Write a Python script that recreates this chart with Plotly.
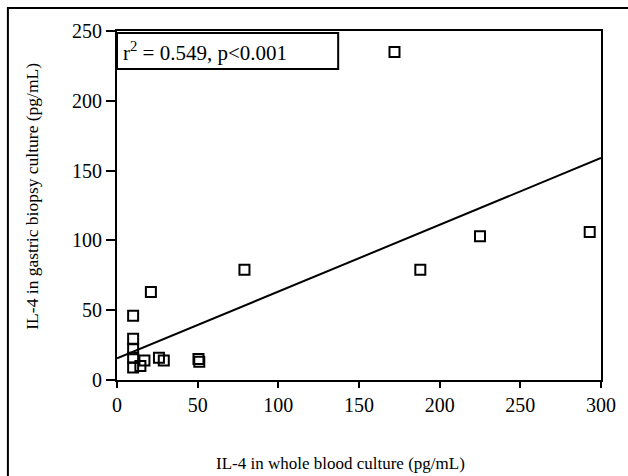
import plotly.graph_objects as go

# Data
blood_il4 = [172, 225, 188, 293, 79, 21, 10, 10, 10, 10, 10, 14.5, 17, 26, 29, 50.5, 51]
biopsy_il4 = [235, 103, 79, 106, 79, 63, 46, 29.5, 22, 16, 9, 10, 14, 16, 14, 15, 13]
fit_x = [0, 300]
fit_y = [15.5, 159]
x_ticks = [0, 50, 100, 150, 200, 250, 300]
y_ticks = [0, 50, 100, 150, 200, 250]
stat_text = "r<sup>2</sup> = 0.549, p&lt;0.001"
x_title = "IL-4 in whole blood culture (pg/mL)"
y_title = "IL-4 in gastric biopsy culture (pg/mL)"

FONT = "Liberation Serif"

fig = go.Figure()
fig.add_trace(go.Scatter(x=fit_x, y=fit_y, mode="lines",
                         line=dict(color="black", width=2), showlegend=False,
                         cliponaxis=False))
fig.add_trace(go.Scatter(x=blood_il4, y=biopsy_il4, mode="markers",
                         marker=dict(symbol="square-open", size=10, color="black",
                                     line=dict(color="black", width=2)),
                         showlegend=False))

W, H = 628, 476
L, R, T, B = 117, 23, 31, 96
pw, ph = W - L - R, H - T - B

def px(x):
    return (x - L) / pw

def py(y):
    return (H - B - y) / ph

fig.update_layout(
    width=W, height=H,
    margin=dict(l=L, r=R, t=T, b=B),
    paper_bgcolor="white", plot_bgcolor="white",
    font=dict(family=FONT, color="black", size=20),
    xaxis=dict(range=[0, 300], tickvals=x_ticks, ticks="outside", ticklen=6,
               tickwidth=2, tickcolor="black", showline=True, linecolor="black",
               linewidth=2, mirror=True, showgrid=False, zeroline=False,
               tickfont=dict(size=20, family=FONT)),
    yaxis=dict(range=[0, 250], tickvals=y_ticks, ticks="outside", ticklen=9,
               tickwidth=2, tickcolor="black", showline=True, linecolor="black",
               linewidth=2, mirror=True, showgrid=False, zeroline=False,
               tickfont=dict(size=20, family=FONT)),
    shapes=[
        # outer frame (left and top edges visible)
        dict(type="rect", xref="paper", yref="paper",
             x0=px(7), x1=px(640), y0=py(490), y1=py(8),
             line=dict(color="black", width=2), layer="above"),
        # stat box
        dict(type="rect", xref="paper", yref="paper",
             x0=px(117), x1=px(340), y0=py(69), y1=py(33),
             line=dict(color="black", width=2), fillcolor="white", layer="above"),
    ],
    annotations=[
        dict(text=stat_text, xref="paper", yref="paper", x=px(121), y=py(51),
             xanchor="left", yanchor="middle", showarrow=False,
             font=dict(size=21, family=FONT, color="black")),
        dict(text=x_title, xref="paper", yref="paper", x=px(342), y=py(463),
             xanchor="center", yanchor="middle", showarrow=False,
             font=dict(size=17, family=FONT, color="black")),
        dict(text=y_title, xref="paper", yref="paper", x=px(31), y=py(196),
             xanchor="center", yanchor="middle", showarrow=False, textangle=-90,
             font=dict(size=17.5, family=FONT, color="black")),
    ],
)

fig.write_html("out.html")
